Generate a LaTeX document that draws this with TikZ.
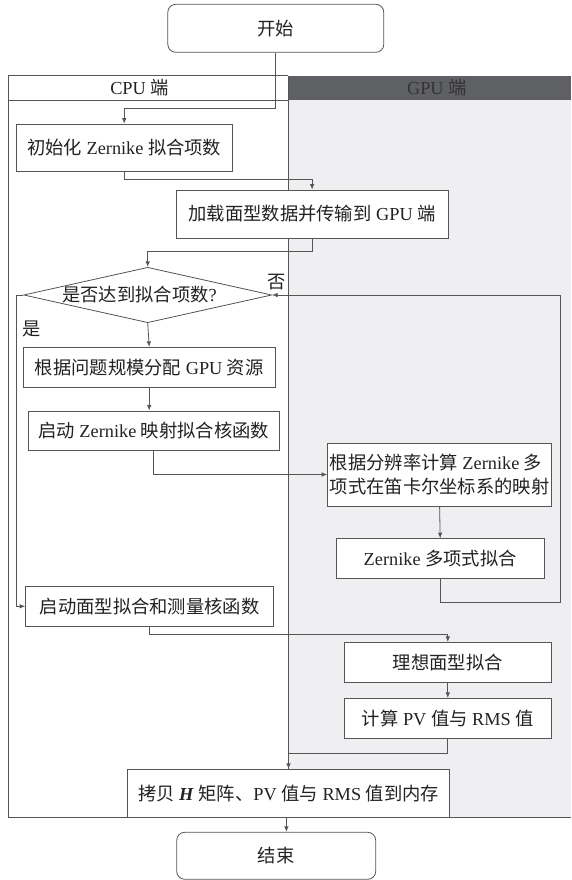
\documentclass[tikz,border=0pt]{standalone}
\usepackage{fontspec}
\setmainfont{Liberation Serif}
\newfontfamily\cjk{Noto Sans CJK SC}
\usetikzlibrary{arrows.meta,shapes.geometric,calc}
\newcommand\zh[1]{{\cjk #1}}
\definecolor{lc}{HTML}{555555}
\definecolor{tc}{HTML}{222222}
\definecolor{gpuhead}{HTML}{5F6064}
\definecolor{gpubody}{HTML}{EFEFF1}
\begin{document}
\begin{tikzpicture}[x=1pt,y=-1pt, font=\fontsize{18.3}{23.4}\selectfont, line width=0.8pt]
\tikzset{
 box/.style={draw=lc, fill=white, inner sep=1pt, text=tc, anchor=center},
 arr/.style={draw=lc, -{Latex[length=5.5pt,width=4.5pt]}},
 lane/.style={draw=lc, line width=0.9pt},
 lbl/.style={text=tc, inner sep=0pt}
}
\useasboundingbox (0,0) rectangle (571,880);
% swimlanes
\fill[gpubody] (288,100) rectangle (571,817.7);
\fill[gpuhead] (288,75.7) rectangle (571,100);
\draw[lane] (288,75.7) -- (8,75.7) -- (8,817.7) -- (571,817.7);
\draw[lane] (8,100) -- (288,100);
\draw[lane] (288,75.7) -- (288,769.3);
\node[lbl] (cpuh) at (139.5,88) {CPU \zh{端}};
\node[lbl, text=black!80, anchor=west] (gpuh) at (406.7,88) {GPU \zh{端}};
% nodes
\node[box, minimum width=216pt, minimum height=48pt, rounded corners=8pt] (start) at (275.8,28.3) {\zh{开始}};
\node[box, minimum width=215.6pt, minimum height=47.7pt] (b1) at (124.2,147.9) {\zh{初始化} Zernike \zh{拟合项数}};
\node[box, minimum width=271.8pt, minimum height=48pt] (b2) at (312.1,214) {\zh{加载面型数据并传输到} GPU \zh{端}};
\node[draw=lc, fill=white, diamond, shape aspect=4.5, inner sep=0pt, minimum width=248pt, minimum height=55.4pt] (dec) at (147.7,295) {};
\node[lbl] (dtxt) at (139.6,295) {\zh{是否达到拟合项数}?};
\node[lbl] (no) at (277,282) {\zh{否}};
\node[lbl] (yes) at (32,329) {\zh{是}};
\node[box, minimum width=252.4pt, minimum height=40pt] (b3) at (149.2,367.3) {\zh{根据问题规模分配} GPU \zh{资源}};
\node[box, minimum width=250.5pt, minimum height=39.7pt] (b4) at (153.7,430.8) {\zh{启动} Zernike \zh{映射拟合核函数}};
\node[box, minimum width=224pt, minimum height=63pt, align=left, inner sep=0pt] (b5) at (439.6,474.5) {\zh{根据分辨率计算} Zernike \zh{多}\\\zh{项式在笛卡尔坐标系的映射}};
\node[box, minimum width=208.3pt, minimum height=39.3pt] (b6) at (440.2,558.3) {Zernike \zh{多项式拟合}};
\node[box, minimum width=248pt, minimum height=40.7pt] (b7) at (149.6,606.3) {\zh{启动面型拟合和测量核函数}};
\node[box, minimum width=207.6pt, minimum height=39.7pt] (b8) at (447.8,662.2) {\zh{理想面型拟合}};
\node[box, minimum width=207.6pt, minimum height=39.7pt] (b9) at (447.8,718.2) {\zh{计算} PV \zh{值与} RMS \zh{值}};
\node[box, minimum width=321.7pt, minimum height=48.4pt] (b10) at (288.5,793.5) {\zh{拷贝} \textbf{\textit{H}} \zh{矩阵、}PV \zh{值与} RMS \zh{值到内存}};
\node[box, minimum width=199pt, minimum height=47pt, rounded corners=8pt] (end) at (276.2,855.8) {\zh{结束}};
% connectors
\draw[arr] (start.south) -- (start.south |- 0,108.3) -| (b1.north);
\draw[arr] (b1.south) -- (b1.south |- 0,179.3) -| (b2.north);
\draw[arr] (b2.south) -- (b2.south |- 0,251) -| (dec.north);
\draw[arr] (dec.south) -- (b3.north);
\draw[arr] (b3.south) -- (b3.south |- b4.north);
\draw[arr] (b4.south) |- (b5.west);
\draw[arr] (b5.south) -- (b6.north);
\draw[arr] (b6.south) -- (b6.south |- 0,602) -- (560,602) |- (dec.east);
\draw[arr] (dec.west) -- (16.4,295) |- (b7.west);
\draw[arr] (b7.south) -- (b7.south |- 0,634) -| (b8.north);
\draw[arr] (b8.south) -- (b9.north);
\draw[arr] (b9.south) -- (b9.south |- 0,753.3) -| (b10.north);
\draw[arr] (b10.south -| 286.4,0) -- (end.north -| 286.4,0);
\end{tikzpicture}
\end{document}
